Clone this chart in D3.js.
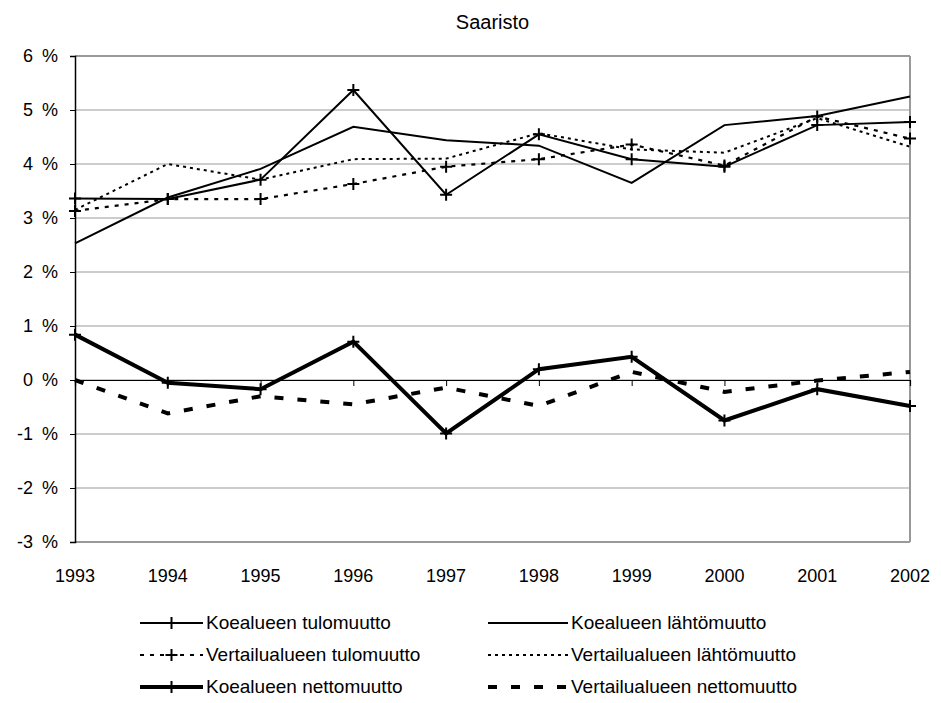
<!DOCTYPE html>
<html>
<head>
<meta charset="utf-8">
<script src="https://cdn.jsdelivr.net/npm/d3@7"></script>
<style>
  body { margin: 0; background: #fff; }
  text { font-family: "Liberation Sans", Arial, sans-serif; fill: #000; }
</style>
</head>
<body>
<div id="chart"></div>
<script>
const years = [1993, 1994, 1995, 1996, 1997, 1998, 1999, 2000, 2001, 2002];
const yTicks = [-3, -2, -1, 0, 1, 2, 3, 4, 5, 6];

// percent values
const koeTulo   = [3.36, 3.35, 3.71, 5.37, 3.43, 4.55, 4.09, 3.95, 4.72, 4.78];
const koeLahto  = [2.53, 3.38, 3.91, 4.69, 4.44, 4.34, 3.65, 4.72, 4.89, 5.25];
const vertTulo  = [3.13, 3.35, 3.35, 3.63, 3.95, 4.09, 4.36, 3.97, 4.88, 4.47];
const vertLahto = [3.15, 4.00, 3.71, 4.09, 4.10, 4.57, 4.27, 4.21, 4.85, 4.32];
const koeNetto  = [0.84, -0.05, -0.17, 0.71, -0.99, 0.20, 0.43, -0.75, -0.17, -0.48];
const vertNetto = [0.00, -0.62, -0.30, -0.45, -0.14, -0.48, 0.15, -0.22, -0.01, 0.15];

const seriesNames = [
  "Koealueen tulomuutto", "Koealueen lähtömuutto",
  "Vertailualueen tulomuutto", "Vertailualueen lähtömuutto",
  "Koealueen nettomuutto", "Vertailualueen nettomuutto"
];

const series = [
  { name: seriesNames[0], values: koeTulo,   width: 2,   dash: null,   marker: true },
  { name: seriesNames[1], values: koeLahto,  width: 2,   dash: null,   marker: false },
  { name: seriesNames[2], values: vertTulo,  width: 2.2, dash: "4,6",  marker: true },
  { name: seriesNames[3], values: vertLahto, width: 2,   dash: "3,4",  marker: false },
  { name: seriesNames[4], values: koeNetto,  width: 4,   dash: null,   marker: true },
  { name: seriesNames[5], values: vertNetto, width: 4,   dash: "9,14", marker: false }
];

const W = 941, H = 703;
const plotLeft = 75, plotRight = 910, plotTop = 56, plotBottom = 542;

const svg = d3.select("#chart").append("svg")
  .attr("width", W).attr("height", H);

const x = d3.scalePoint().domain(years).range([plotLeft, plotRight]);
const y = d3.scaleLinear().domain([-3, 6]).range([plotBottom, plotTop]);

// title
svg.append("text")
  .attr("x", (plotLeft + plotRight) / 2).attr("y", 29)
  .attr("text-anchor", "middle")
  .style("font-size", "20px")
  .text("Saaristo");

// gridlines
svg.append("g").selectAll("line")
  .data(yTicks)
  .enter().append("line")
  .attr("x1", plotLeft).attr("x2", plotRight)
  .attr("y1", d => y(d)).attr("y2", d => y(d))
  .attr("stroke", "#999")
  .attr("stroke-width", d => (d === 6 || d === -3) ? 2 : 1);

// right border
svg.append("line")
  .attr("x1", plotRight).attr("x2", plotRight).attr("y1", plotTop).attr("y2", plotBottom)
  .attr("stroke", "#999").attr("stroke-width", 2);

// y axis
const yAxis = svg.append("g")
  .attr("transform", `translate(${plotLeft},0)`)
  .call(d3.axisLeft(y).tickValues(yTicks).tickSize(5).tickPadding(12).tickFormat(d => d + "\u2002%"));
yAxis.select(".domain").attr("stroke", "#000").attr("stroke-width", 1.5);
yAxis.selectAll(".tick line").attr("stroke", "#000");
yAxis.selectAll("text").style("font-size", "18px")
  .style("font-family", "'Liberation Sans', Arial, sans-serif");

// x axis at 0 with labels at the bottom
const xAxis = svg.append("g")
  .attr("transform", `translate(0,${y(0)})`)
  .call(d3.axisBottom(x).tickSize(6).tickFormat(""));
xAxis.select(".domain").attr("stroke", "#000").attr("stroke-width", 1.2);
xAxis.selectAll(".tick line").attr("stroke", "#000");

svg.append("g").selectAll("text")
  .data(years)
  .enter().append("text")
  .attr("x", d => x(d))
  .attr("y", plotBottom + 40)
  .attr("text-anchor", "middle")
  .style("font-size", "18px")
  .text(d => d);

const line = d3.line()
  .x((d, i) => x(years[i]))
  .y(d => y(d));

const plusPath = (cx, cy, s) => `M${cx - s},${cy}H${cx + s}M${cx},${cy - s}V${cy + s}`;

series.forEach(s => {
  svg.append("path")
    .datum(s.values)
    .attr("fill", "none")
    .attr("stroke", "#000")
    .attr("stroke-width", s.width)
    .attr("stroke-dasharray", s.dash)
    .attr("d", line);
  if (s.marker) {
    svg.append("g").selectAll("path")
      .data(s.values)
      .enter().append("path")
      .attr("d", (d, i) => plusPath(x(years[i]), y(d), 6))
      .attr("stroke", "#000")
      .attr("stroke-width", 2)
      .attr("fill", "none");
  }
});

// legend
const legendRows = [623, 655, 687];
const legendCols = [
  { x1: 140, x2: 203 },
  { x1: 488, x2: 568 }
];
series.forEach((s, i) => {
  const col = legendCols[i % 2];
  const ry = legendRows[Math.floor(i / 2)];
  const g = svg.append("g");
  g.append("line")
    .attr("x1", col.x1).attr("x2", col.x2)
    .attr("y1", ry).attr("y2", ry)
    .attr("stroke", "#000")
    .attr("stroke-width", s.width)
    .attr("stroke-dasharray", s.dash);
  if (s.marker) {
    const cx = (col.x1 + col.x2) / 2;
    g.append("path")
      .attr("d", plusPath(cx, ry, 6))
      .attr("stroke", "#000").attr("stroke-width", 2);
  }
  g.append("text")
    .attr("x", col.x2 + 3).attr("y", ry + 6)
    .style("font-size", "19px")
    .text(s.name);
});
</script>
</body>
</html>
